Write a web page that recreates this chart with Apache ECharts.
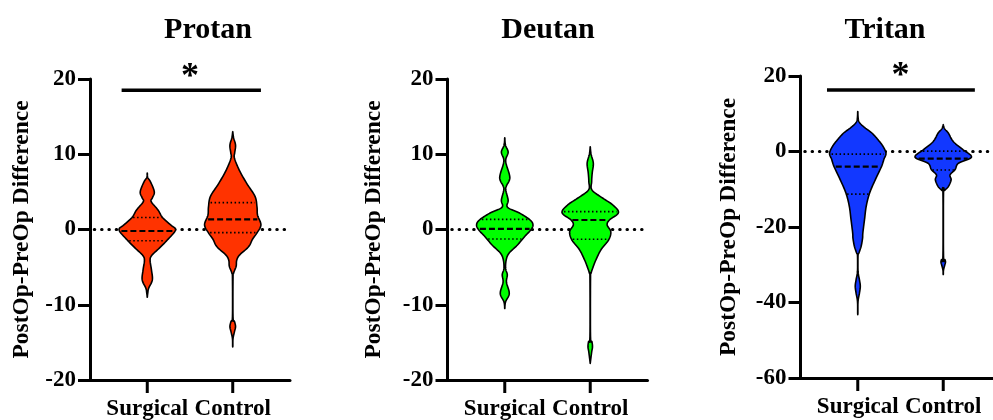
<!DOCTYPE html>
<html><head><meta charset="utf-8">
<script src="https://cdn.jsdelivr.net/npm/echarts@6/dist/echarts.min.js"></script>
<style>html,body{margin:0;padding:0;background:#fff}#c{width:993px;height:420px}</style>
</head><body><div id="c"></div>
<script>
// ---------------- data ----------------
const categories = ['Surgical', 'Control'];
const panelTitles = ['Protan', 'Deutan', 'Tritan'];
const yRanges = [[-20, 20, 10], [-20, 20, 10], [-60, 20, 20]]; // min, max, interval

// violin profiles: [value, relative density (half-width, 1 = widest)]
const protanSurgical = [[7.5,0],[6.9,0.02],[6.3,0.12],[5.0,0.25],[4.2,0.18],[3.7,0.14],[2.6,0.38],[1.6,0.54],[0.6,0.83],[-0.07,1.0],[-1.4,0.71],[-2.5,0.42],[-3.4,0.17],[-4.05,0.1],[-5.4,0.15],[-6.7,0.18],[-7.8,0.05],[-8.4,0.02],[-9.0,0]];
const protanControl = [[13.0,0],[12.2,0.03],[11.2,0.1],[10.2,0.07],[9.5,0.06],[7.9,0.23],[6.1,0.5],[4.4,0.79],[3.0,0.86],[1.9,0.88],[0.6,1.0],[-0.5,0.85],[-1.3,0.7],[-2.3,0.56],[-3.4,0.24],[-4.1,0.14],[-4.9,0.12],[-5.8,0.03],[-6.5,0.01],[-11.6,0.01],[-12.2,0.06],[-12.9,0.1],[-13.6,0.06],[-14.5,0.01],[-15.6,0]];
const deutanSurgical = [[12.2,0],[11.2,0.025],[10.3,0.12],[9.4,0.04],[8.7,0.05],[6.9,0.18],[5.8,0.06],[5.25,0.035],[3.9,0.12],[2.95,0.1],[2.15,0.54],[1.26,0.9],[0.6,1.0],[-0.07,0.92],[-0.96,0.7],[-2.06,0.45],[-3.16,0.15],[-4.05,0.05],[-5.2,0.03],[-6.0,0.09],[-7.0,0.06],[-8.5,0.16],[-9.6,0.03],[-10.5,0]];
const deutanControl = [[11.0,0],[10.0,0.03],[8.8,0.11],[7.5,0.07],[6.35,0.05],[5.25,0.06],[4.15,0.45],[3.26,0.8],[2.24,1.0],[1.26,0.68],[0.6,0.6],[-0.3,0.73],[-1.4,0.65],[-2.7,0.38],[-4.05,0.2],[-5.0,0.1],[-5.8,0.03],[-6.5,0.01],[-14.2,0.01],[-14.9,0.06],[-15.6,0.08],[-16.3,0.05],[-17.8,0]];
const tritanSurgical = [[10.6,0],[8.5,0.02],[7.5,0.08],[6.3,0.25],[4.9,0.5],[3.1,0.72],[1.3,0.9],[-0.5,1.0],[-2.0,0.93],[-4.0,0.84],[-7.5,0.62],[-11.0,0.42],[-14.5,0.3],[-18.0,0.24],[-21.6,0.18],[-23.0,0.17],[-25.1,0.12],[-26.9,0.04],[-27.5,0.01],[-31.7,0.01],[-34.0,0.06],[-35.7,0.09],[-37.5,0.06],[-39.7,0.01],[-43.2,0]];
const tritanControl = [[7.1,0],[6.0,0.05],[4.9,0.18],[2.6,0.36],[0.45,0.71],[-1.5,1.0],[-3.1,0.54],[-4.8,0.42],[-6.2,0.24],[-7.5,0.28],[-9.3,0.18],[-10.3,0.05],[-11.0,0.01],[-27.6,0.01],[-28.6,0.06],[-29.3,0.08],[-30.2,0.05],[-31.4,0.01],[-32.6,0]];

// quartiles per category: [upper quartile, median, lower quartile]
const protanQuartiles = [[1.6, -0.2, -1.5], [3.57, 1.35, -0.42]];
const deutanQuartiles = [[1.35, 0.07, -1.26], [2.37, 1.26, -1.3]];
const tritanQuartiles = [[-0.7, -4.0, -11.3], [0.1, -1.9, -4.9]];

// significance annotations: panel index, bar x-span (category units), bar y, star position
const sigPanels = [0, 2];
const sigBarX = [[0.7, 2.33], [0.64, 2.37]];
const sigBarY = [18.5, 16.3];
const sigStar = [[1.5, 20.2], [1.5, 19.7]];

// ---------------- chart ----------------
const profiles = [[protanSurgical, protanControl], [deutanSurgical, deutanControl], [tritanSurgical, tritanControl]];
const quartiles = [protanQuartiles, deutanQuartiles, tritanQuartiles];
const fills = ['#FF3300', '#00FF00', '#1238FF'];
const FONT = '"Liberation Serif", "Times New Roman", serif';
const HALF = 0.33;
const X_MIN = 0.33, X_MAX = 2.67;
const gridPos = [{left: 90, top: 79, width: 200, height: 301}, {left: 447.5, top: 79, width: 200, height: 301}, {left: 800.5, top: 76, width: 200, height: 302}];
const titleX = [208, 548, 885];
const nameGaps = [56, 62, 60];

// Catmull-Rom resampling of a profile (rendering helper)
function smoothProfile(prof, steps) {
  const out = [];
  const n = prof.length;
  for (let i = 0; i < n - 1; i++) {
    const p0 = prof[Math.max(i - 1, 0)], p1 = prof[i], p2 = prof[i + 1], p3 = prof[Math.min(i + 2, n - 1)];
    for (let s = 0; s < steps; s++) {
      const t = s / steps, t2 = t * t, t3 = t2 * t;
      const f = (a, b, c, d) => 0.5 * ((2 * b) + (-a + c) * t + (2 * a - 5 * b + 4 * c - d) * t2 + (-a + 3 * b - 3 * c + d) * t3);
      let v = f(p0[0], p1[0], p2[0], p3[0]);
      let w = f(p0[1], p1[1], p2[1], p3[1]);
      const lo = Math.min(p1[1], p2[1]);
      w = Math.max(w, Math.max(lo * 0.6, 0.004));
      if (i === 0 && s === 0) w = 0;
      out.push([v, w]);
    }
  }
  out.push([prof[n - 1][0], 0]);
  return out;
}
function interp(prof, v) {
  for (let i = 0; i < prof.length - 1; i++) {
    const [v1, w1] = prof[i], [v2, w2] = prof[i + 1];
    if (v <= v1 && v >= v2) {
      const t = (v1 - v) / (v1 - v2 || 1);
      return w1 + (w2 - w1) * t;
    }
  }
  return 0;
}

const grid = [], xAxis = [], yAxis = [], series = [], graphic = [];
for (let p = 0; p < 3; p++) {
  grid.push(Object.assign({containLabel: false, outerBoundsMode: 'none'}, gridPos[p]));
  xAxis.push({
    type: 'value', gridIndex: p, min: X_MIN, max: X_MAX,
    axisLine: {show: true, onZero: false, lineStyle: {color: '#000', width: 3}},
    axisTick: {show: false},
    axisLabel: {show: true, customValues: [1, 2], margin: 18, color: '#000', fontFamily: FONT, fontWeight: 'bold', fontSize: 23,
      formatter: v => categories[Math.round(v) - 1] || ''},
    splitLine: {show: false}
  });
  yAxis.push({
    type: 'value', gridIndex: p, min: yRanges[p][0], max: yRanges[p][1], interval: yRanges[p][2],
    name: 'PostOp-PreOp Difference', nameLocation: 'middle', nameRotate: 90, nameGap: nameGaps[p],
    nameTextStyle: {color: '#000', fontFamily: FONT, fontWeight: 'bold', fontSize: 23.5},
    axisLine: {show: true, onZero: false, lineStyle: {color: '#000', width: 3}},
    axisTick: {show: true, length: 12, lineStyle: {color: '#000', width: 3}},
    axisLabel: {color: '#000', fontFamily: FONT, fontWeight: 'bold', fontSize: 23, margin: 14},
    splitLine: {show: false}
  });
  graphic.push({type: 'text', x: titleX[p], y: 30, style: {text: panelTitles[p], fill: '#000', font: 'bold 30px ' + FONT, align: 'center', verticalAlign: 'middle', textAlign: 'center', textVerticalAlign: 'middle'}});

  // zero reference line + category ticks
  series.push({
    type: 'custom', xAxisIndex: p, yAxisIndex: p, z: 1, silent: true,
    data: [[0.38, X_MAX, 0]],
    renderItem: (params, api) => {
      const a = api.coord([api.value(0), api.value(2)]), b = api.coord([api.value(1), api.value(2)]);
      const children = [{type: 'line', shape: {x1: a[0], y1: a[1], x2: b[0], y2: b[1]},
        style: {stroke: '#000', lineWidth: 3, lineDash: [0.5, 6.8], lineCap: 'round'}}];
      categories.forEach((name, c) => {
        const t = api.coord([c + 1, yRanges[p][0]]);
        children.push({type: 'line', shape: {x1: t[0], y1: t[1], x2: t[0], y2: t[1] + 13}, style: {stroke: '#000', lineWidth: 3}});
      });
      return {type: 'group', children};
    }
  });
  for (let c = 0; c < 2; c++) {
    series.push({
      type: 'custom', xAxisIndex: p, yAxisIndex: p, z: 3, silent: true,
      data: [[c + 1, 0]],
      renderItem: (params, api) => {
        const x0 = api.value(0);
        const prof = profiles[p][c];
        const sm = smoothProfile(prof, 8);
        const left = sm.map(([v, w]) => api.coord([x0 - w * HALF, v]));
        const right = sm.filter(([v, w]) => w > 0).slice().reverse().map(([v, w]) => api.coord([x0 + w * HALF, v]));
        const children = [{
          type: 'polygon', shape: {points: left.concat(right)},
          style: {fill: fills[p], stroke: '#000', lineWidth: 1.6, lineJoin: 'round'}
        }];
        quartiles[p][c].forEach((q, k) => {
          const hw = interp(sm, q) * HALF * 0.93;
          const a = api.coord([x0 - hw, q]), b = api.coord([x0 + hw, q]);
          children.push({type: 'line', shape: {x1: a[0], y1: a[1], x2: b[0], y2: b[1]},
            style: {stroke: '#000', lineWidth: k === 1 ? 2.2 : 1.6, lineDash: k === 1 ? [6, 3] : [1.5, 2.5]}});
        });
        return {type: 'group', children};
      }
    });
  }
}
sigPanels.forEach((p, i) => {
  series.push({
    type: 'custom', xAxisIndex: p, yAxisIndex: p, z: 4, silent: true,
    data: [[sigBarX[i][0], sigBarX[i][1], sigBarY[i], sigStar[i][0], sigStar[i][1]]],
    renderItem: (params, api) => {
      const a = api.coord([api.value(0), api.value(2)]), b = api.coord([api.value(1), api.value(2)]);
      const s = api.coord([api.value(3), api.value(4)]);
      return {type: 'group', children: [
        {type: 'line', shape: {x1: a[0], y1: a[1], x2: b[0], y2: b[1]}, style: {stroke: '#000', lineWidth: 3.5}},
        {type: 'text', x: s[0], y: s[1], style: {text: '*', fill: '#000', font: 'bold 36px ' + FONT, align: 'center', verticalAlign: 'middle'}}
      ]};
    }
  });
});

const chart = echarts.init(document.getElementById('c'), null, {renderer: 'canvas'});
chart.setOption({animation: false, backgroundColor: '#fff', grid, xAxis, yAxis, series, graphic});
</script>
</body></html>
